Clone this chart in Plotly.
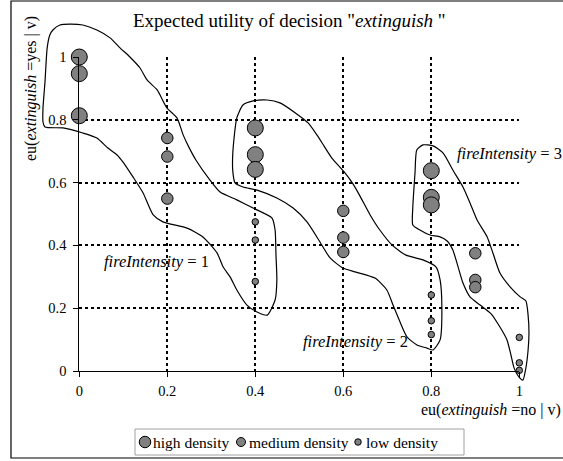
import plotly.graph_objects as go

# ---------------- data ----------------
tick_vals = [0, 0.2, 0.4, 0.6, 0.8, 1]
tick_text = ["0", "0.2", "0.4", "0.6", "0.8", "1"]

series_names = ["high density", "medium density", "low density"]

high_x = [0, 0, 0, 0.4, 0.4, 0.4, 0.8, 0.8, 0.8]
high_y = [1.0, 0.947, 0.813, 0.774, 0.689, 0.642, 0.638, 0.553, 0.529]

medium_x = [0.2, 0.2, 0.2, 0.6, 0.6, 0.6, 0.9, 0.9, 0.9]
medium_y = [0.742, 0.683, 0.549, 0.510, 0.425, 0.379, 0.375, 0.290, 0.267]

low_x = [0.4, 0.4, 0.4, 0.8, 0.8, 0.8, 1, 1, 1]
low_y = [0.475, 0.417, 0.285, 0.242, 0.160, 0.116, 0.107, 0.026, 0.002]

# hand-drawn group outlines (data units)
outline1_x = [-0.060, -0.044, -0.021, 0.008, 0.040, 0.070, 0.0925, 0.115, 0.138, 0.154, 0.177, 0.199,
              0.222, 0.236, 0.249, 0.265, 0.297, 0.320, 0.358, 0.395, 0.438, 0.445, 0.447, 0.449,
              0.445, 0.427, 0.404, 0.381, 0.358, 0.343, 0.327, 0.313, 0.281, 0.245, 0.190, 0.168,
              0.145, 0.122, 0.099, 0.086, 0.065, 0.040, 0.008, -0.037, -0.078, -0.0825, -0.0825,
              -0.078, -0.073, -0.067, -0.060]
outline1_y = [1.086, 1.102, 1.105, 1.102, 1.086, 1.061, 1.029, 1.000, 0.965, 0.927, 0.895, 0.838,
              0.806, 0.752, 0.713, 0.672, 0.608, 0.570, 0.545, 0.519, 0.487, 0.449, 0.369, 0.290,
              0.226, 0.178, 0.188, 0.210, 0.258, 0.299, 0.331, 0.376, 0.427, 0.455, 0.475, 0.497,
              0.567, 0.618, 0.666, 0.688, 0.710, 0.742, 0.758, 0.774, 0.777, 0.793, 0.838,
              0.920, 1.029, 1.070, 1.086]

outline2_x = [0.358, 0.372, 0.395, 0.427, 0.456, 0.495, 0.520, 0.540, 0.556, 0.574, 0.602, 0.622,
              0.638, 0.661, 0.683, 0.711, 0.7425, 0.781, 0.811, 0.820, 0.824, 0.820, 0.804, 0.790,
              0.7675, 0.745, 0.729, 0.713, 0.699, 0.672, 0.629, 0.599, 0.570, 0.547, 0.5175, 0.486,
              0.449, 0.404, 0.372, 0.354, 0.349, 0.349, 0.358]
outline2_y = [0.806, 0.847, 0.860, 0.863, 0.854, 0.818, 0.790, 0.752, 0.717, 0.678, 0.634, 0.596,
              0.557, 0.497, 0.449, 0.401, 0.369, 0.354, 0.331, 0.290, 0.204, 0.099, 0.067, 0.073,
              0.083, 0.108, 0.156, 0.210, 0.258, 0.296, 0.315, 0.328, 0.360, 0.411, 0.475, 0.519,
              0.551, 0.576, 0.586, 0.599, 0.634, 0.697, 0.806]

outline3_x = [0.767, 0.781, 0.804, 0.827, 0.849, 0.872, 0.888, 0.904, 0.927, 0.940, 0.956, 0.979,
              1.002, 1.015, 1.020, 1.022, 1.020, 1.015, 1.008, 0.999, 0.988, 0.981, 0.972, 0.956,
              0.936, 0.911, 0.888, 0.872, 0.861, 0.849, 0.836, 0.820, 0.797, 0.774, 0.758, 0.758,
              0.763, 0.767]
outline3_y = [0.704, 0.720, 0.717, 0.694, 0.640, 0.586, 0.535, 0.481, 0.427, 0.376, 0.312, 0.268,
              0.236, 0.223, 0.178, 0.121, 0.067, 0.010, -0.029, -0.019, 0.010, 0.051, 0.099, 0.140,
              0.182, 0.210, 0.236, 0.280, 0.331, 0.385, 0.414, 0.427, 0.433, 0.449, 0.465, 0.522,
              0.631, 0.704]

group_labels = ["<i>fireIntensity</i> = 1", "<i>fireIntensity</i> = 2", "<i>fireIntensity</i> = 3"]
group_label_x = [0.051, 0.503, 0.854]
group_label_y = [0.348, 0.093, 0.693]

title_text = 'Expected utility of decision "<i>extinguish</i> "'
x_title = "eu(<i>extinguish</i> =no | v)"
y_title = "eu(<i>extinguish</i> =yes | v)"

# ---------------- layout geometry (pixels) ----------------
W, H = 563, 461
PL, PR, PT, PB = 79.3, 519.3, 57.0, 371.0
FONT = "Liberation Serif"
MARKER_FILL = "#808080"
SIZES = [16, 11.5, 6.5]

xdom = [PL / W, PR / W]
ydom = [1 - PB / H, 1 - PT / H]
sx = 1.0 / (PR - PL)
sy = 1.0 / (PB - PT)
x2_range = [0 - PL * sx, 0 + (W - PL) * sx]
y2_range = [0 - (H - PB) * sy, 0 + PB * sy]


def px(x):
    return x / W


def py(y):
    return 1 - y / H


fig = go.Figure()

for ox, oy in [(outline1_x, outline1_y), (outline2_x, outline2_y), (outline3_x, outline3_y)]:
    fig.add_trace(go.Scatter(x=ox, y=oy, mode="lines", xaxis="x2", yaxis="y2",
                             line=dict(color="black", width=1.2, shape="spline", smoothing=0.6),
                             showlegend=False, hoverinfo="skip"))

for name, xs, ys, size in zip(series_names, [high_x, medium_x, low_x],
                              [high_y, medium_y, low_y], SIZES):
    fig.add_trace(go.Scatter(x=xs, y=ys, mode="markers", name=name, cliponaxis=False,
                             showlegend=False,
                             marker=dict(size=size, color=MARKER_FILL,
                                         line=dict(color="black", width=1))))

axis_common = dict(range=[0, 1], tickvals=tick_vals, ticktext=tick_text,
                   showline=True, linecolor="black", linewidth=1,
                   ticks="outside", ticklen=5, tickcolor="black", tickwidth=1,
                   showgrid=True, gridcolor="black", griddash="dot", gridwidth=2,
                   zeroline=False, fixedrange=True,
                   tickfont=dict(family=FONT, size=14.5, color="black"))

fig.update_layout(
    width=W, height=H,
    margin=dict(l=0, r=0, t=0, b=0, autoexpand=False),
    paper_bgcolor="white", plot_bgcolor="rgba(0,0,0,0)",
    font=dict(family=FONT, size=14, color="black"),
    xaxis=dict(domain=xdom, anchor="y", ticklabelstandoff=2, **axis_common),
    yaxis=dict(domain=ydom, anchor="x", ticklabelstandoff=4, **axis_common),
    xaxis2=dict(domain=[0, 1], range=x2_range, anchor="y2", visible=False, fixedrange=True),
    yaxis2=dict(domain=[0, 1], range=y2_range, anchor="x2", visible=False, fixedrange=True),
    showlegend=False,
)

annotations = [
    dict(text=title_text, x=px(289), y=py(20), xref="paper", yref="paper",
         xanchor="center", yanchor="middle",
         showarrow=False, font=dict(family=FONT, size=19, color="black")),
    dict(text=y_title, x=px(31), y=py(89), xref="paper", yref="paper", textangle=-90,
         xanchor="center", yanchor="middle",
         showarrow=False, font=dict(family=FONT, size=16, color="black")),
    dict(text=x_title, x=px(419), y=py(410), xref="paper", yref="paper",
         xanchor="left", yanchor="middle",
         showarrow=False, font=dict(family=FONT, size=16, color="black")),
]
for t, gx, gy in zip(group_labels, group_label_x, group_label_y):
    annotations.append(dict(text=t, x=gx, y=gy, xref="x", yref="y",
                            xanchor="left", yanchor="middle",
                            showarrow=False, font=dict(family=FONT, size=16.5, color="black")))

# manual legend (box, symbols, texts)
legend_sym_x = [145, 241, 358]
legend_txt_x = [151, 247, 364]
legend_y = 442
for name, sxp, txp, size in zip(series_names, legend_sym_x, legend_txt_x, [11.5, 9, 6.5]):
    fig.add_shape(type="circle", xref="paper", yref="paper", xsizemode="pixel", ysizemode="pixel",
                  xanchor=px(sxp), yanchor=py(legend_y), x0=-size / 2, x1=size / 2,
                  y0=-size / 2, y1=size / 2, fillcolor=MARKER_FILL,
                  line=dict(color="black", width=1))
    annotations.append(dict(text=name, x=px(txp), y=py(legend_y), xref="paper", yref="paper",
                            xanchor="left", yanchor="middle", showarrow=False,
                            font=dict(family=FONT, size=15.5, color="black")))
fig.update_layout(annotations=annotations)

fig.add_shape(type="rect", xref="paper", yref="paper",
              x0=px(135), x1=px(464), y0=py(455), y1=py(429),
              line=dict(color="#a0a0a0", width=1), fillcolor="rgba(0,0,0,0)", layer="below")

fig.add_shape(type="rect", xref="paper", yref="paper",
              x0=px(11), x1=px(W + 5), y0=py(458), y1=py(1),
              line=dict(color="black", width=1.2), fillcolor="rgba(0,0,0,0)")

fig.write_html("out.html", config={"displayModeBar": False},
               post_script="document.body.style.margin='0';")
